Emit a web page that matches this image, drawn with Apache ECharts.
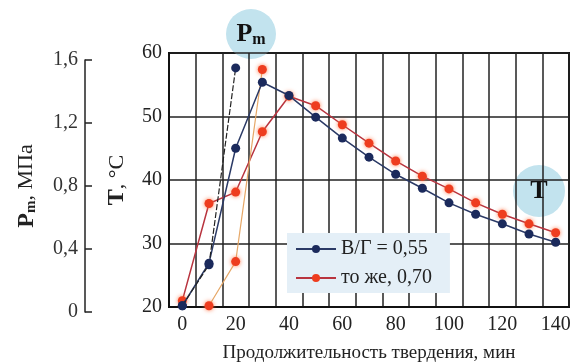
<!DOCTYPE html>
<html>
<head>
<meta charset="utf-8">
<script src="https://cdn.jsdelivr.net/npm/echarts@6/dist/echarts.min.js"></script>
<style>
  html, body { margin: 0; padding: 0; background: #fff; }
  #main { width: 570px; height: 363px; }
</style>
</head>
<body>
<div id="main"></div>
<script>
// время, мин
var timeT = [0, 10, 20, 30, 40, 50, 60, 70, 80, 90, 100, 110, 120, 130, 140];
// температура, °C
var tempBlue = [20.2, 26.9, 45.0, 55.4, 53.3, 49.9, 46.6, 43.6, 40.9, 38.7, 36.4, 34.6, 33.1, 31.5, 30.2];
var tempRed = [21.0, 36.3, 38.1, 47.6, 53.2, 51.7, 48.7, 45.8, 43.0, 40.6, 38.6, 36.4, 34.6, 33.1, 31.7];
// прочность Pm, МПа
var timePmBlue = [0, 10, 20];
var pmBlue = [0.04, 0.30, 1.55];
var timePmRed = [10, 20, 30];
var pmRed = [0.04, 0.32, 1.54];
var xLabels = [0, 20, 40, 60, 80, 100, 120, 140];
var seriesNames = ['В/Г = 0,55', 'то же, 0,70'];

function pairs(xs, ys) {
  var res = [];
  for (var i = 0; i < xs.length; i++) {
    res.push([xs[i], ys[i]]);
  }
  return res;
}

var font = 'Liberation Serif';
var navy = '#1b2a5c';
var redDot = '#ee3d1f';

var chart = echarts.init(document.getElementById('main'));
var option = {
  animation: false,
  textStyle: { fontFamily: font },
  grid: [{
    left: 169, right: 1, top: 53, bottom: 56,
    outerBoundsMode: 'none',
    show: true, borderColor: '#111', borderWidth: 2
  }, {
    left: 169, right: 1, top: 60, bottom: 51,
    outerBoundsMode: 'none'
  }],
  legend: {
    data: seriesNames,
    orient: 'vertical',
    left: 287,
    top: 233,
    backgroundColor: '#e4eff7',
    padding: [6, 18, 5, 8],
    itemGap: 9,
    itemWidth: 40,
    itemHeight: 10,
    textStyle: { fontFamily: font, fontSize: 20, color: '#222' }
  },
  xAxis: [{
    type: 'value',
    gridIndex: 0,
    min: -5,
    max: 145,
    interval: 10,
    name: 'Продолжительность твердения, мин',
    nameLocation: 'middle',
    nameGap: 37,
    nameTextStyle: { fontFamily: font, fontSize: 19, color: '#222' },
    axisLine: { onZero: false, lineStyle: { color: '#111', width: 2 } },
    axisTick: { show: false },
    axisLabel: {
      customValues: xLabels,
      fontSize: 20, color: '#222', margin: 8
    },
    splitLine: { show: true, lineStyle: { color: '#222', width: 1.5 } }
  }, {
    type: 'value',
    gridIndex: 1,
    min: -5,
    max: 145,
    show: false
  }],
  yAxis: [{
    type: 'value',
    gridIndex: 0,
    min: 20,
    max: 60,
    interval: 10,
    name: '{b|T}{n|, °C}',
    nameLocation: 'middle',
    nameRotate: 90,
    nameGap: 40,
    nameTextStyle: {
      rich: {
        b: { fontFamily: font, fontSize: 24, fontWeight: 'bold', color: '#222' },
        n: { fontFamily: font, fontSize: 22, color: '#222' }
      }
    },
    axisLine: { show: true, onZero: false, lineStyle: { color: '#111', width: 2 } },
    axisTick: { show: false },
    axisLabel: { fontSize: 20, color: '#222', margin: 7 },
    splitLine: { show: true, lineStyle: { color: '#222', width: 1.5 } }
  }, {
    type: 'value',
    gridIndex: 1,
    min: 0,
    max: 1.6,
    interval: 0.4,
    offset: 84,
    name: '{b|P}{s|m}{n|, МПа}',
    nameLocation: 'middle',
    nameRotate: 90,
    nameGap: 46,
    nameTextStyle: {
      rich: {
        b: { fontFamily: font, fontSize: 24, fontWeight: 'bold', color: '#222' },
        s: { fontFamily: font, fontSize: 15, fontWeight: 'bold', color: '#222', padding: [10, 0, 0, 0] },
        n: { fontFamily: font, fontSize: 22, color: '#222' }
      }
    },
    axisLine: { show: true, onZero: false, lineStyle: { color: '#222', width: 1.5 } },
    axisTick: { show: true, inside: true, length: 7, lineStyle: { color: '#222', width: 1.5 } },
    axisLabel: {
      fontSize: 20, color: '#333', margin: 7,
      formatter: function (v) {
        return v === 0 ? '0' : v.toFixed(1).replace('.', ',');
      }
    },
    splitLine: { show: false }
  }],
  series: [{
    name: seriesNames[0],
    type: 'line',
    xAxisIndex: 0,
    yAxisIndex: 0,
    data: pairs(timeT, tempBlue),
    symbol: 'circle',
    symbolSize: 9,
    itemStyle: { color: navy },
    lineStyle: { color: '#2b3a66', width: 1.5 },
    z: 4
  }, {
    name: seriesNames[1],
    type: 'line',
    xAxisIndex: 0,
    yAxisIndex: 0,
    data: pairs(timeT, tempRed),
    symbol: 'circle',
    symbolSize: 9,
    itemStyle: { color: redDot, shadowBlur: 4, shadowColor: 'rgba(255,110,60,0.9)' },
    lineStyle: { color: '#b8343f', width: 1.5 },
    z: 3
  }, {
    name: 'Pm 0,55',
    type: 'line',
    xAxisIndex: 1,
    yAxisIndex: 1,
    data: pairs(timePmBlue, pmBlue),
    symbol: 'circle',
    symbolSize: 9,
    itemStyle: { color: navy },
    lineStyle: { color: '#222', width: 1.2, type: [6, 2] },
    z: 4
  }, {
    name: 'Pm 0,70',
    type: 'line',
    xAxisIndex: 1,
    yAxisIndex: 1,
    data: pairs(timePmRed, pmRed),
    symbol: 'circle',
    symbolSize: 9,
    itemStyle: { color: redDot, shadowBlur: 4, shadowColor: 'rgba(255,110,60,0.9)' },
    lineStyle: { color: '#e6a868', width: 1.2 },
    z: 3
  }],
  graphic: [{
    type: 'group',
    x: 251, y: 34,
    z: 100,
    children: [{
      type: 'circle',
      shape: { cx: 0, cy: 0, r: 25 },
      style: { fill: '#c2e3ee' }
    }, {
      type: 'text',
      x: 0, y: 0,
      style: {
        text: '{b|P}{s|m}',
        rich: {
          b: { fontFamily: font, fontSize: 26, fontWeight: 'bold', fill: '#111' },
          s: { fontFamily: font, fontSize: 16, fontWeight: 'bold', fill: '#111', padding: [12, 0, 0, 0] }
        },
        align: 'center',
        verticalAlign: 'middle'
      }
    }]
  }, {
    type: 'group',
    x: 539, y: 191,
    z: 100,
    children: [{
      type: 'circle',
      shape: { cx: 0, cy: 0, r: 26 },
      style: { fill: '#c2e3ee' }
    }, {
      type: 'text',
      x: 0, y: 0,
      style: {
        text: 'T',
        fontFamily: font, fontSize: 26, fontWeight: 'bold', fill: '#111',
        align: 'center',
        verticalAlign: 'middle'
      }
    }]
  }]
};
chart.setOption(option);
</script>
</body>
</html>
